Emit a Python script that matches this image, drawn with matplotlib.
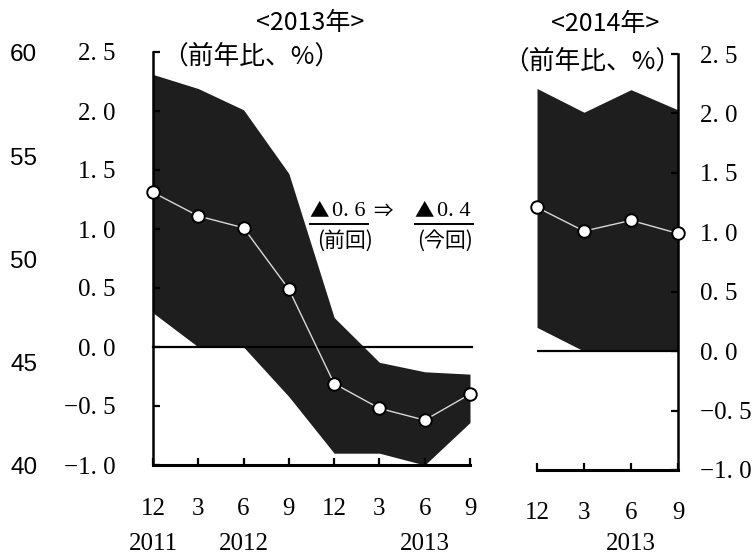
import matplotlib
matplotlib.use("Agg")
import matplotlib.pyplot as plt
from matplotlib.transforms import blended_transform_factory
import numpy as np

# ---- data -------------------------------------------------------------
# 2013 forecast panel: quarters from Dec 2011 to Sep 2013
q13_labels = ["12", "3", "6", "9", "12", "3", "6", "9"]
q13_median = [1.31, 1.11, 1.01, 0.49, -0.31, -0.52, -0.62, -0.40]
q13_upper = [2.31, 2.19, 2.01, 1.47, 0.25, -0.13, -0.21, -0.23]
q13_lower = [0.29, 0.00, 0.00, -0.42, -0.90, -0.90, -1.00, -0.64]
q13_years = {0: "2011", 2: "2012", 6: "2013"}

# 2014 forecast panel: quarters from Dec 2012 to Sep 2013
q14_labels = ["12", "3", "6", "9"]
q14_median = [1.21, 1.01, 1.10, 0.99]
q14_upper = [2.21, 2.01, 2.20, 2.03]
q14_lower = [0.20, 0.00, 0.00, 0.00]
q14_years = {2: "2013"}

y_ticks = [2.5, 2.0, 1.5, 1.0, 0.5, 0.0, -0.5, -1.0]
y_ticklabels = ["2. 5", "2. 0", "1. 5", "1. 0", "0. 5", "0. 0", "−0. 5", "−1. 0"]
far_ticks = [60, 55, 50, 45, 40]

SERIF = ["Liberation Serif", "Noto Sans CJK JP", "DejaVu Sans"]
CJK = ["Noto Sans CJK JP", "DejaVu Sans"]
BAND = "#1e1e1e"
TICK_FS = 18

W, H = 753, 556
fig = plt.figure(figsize=(W / 100, H / 100), dpi=100)


def rect(x0, y_top, x1, y_bot):
    return [x0 / W, (H - y_bot) / H, (x1 - x0) / W, (y_bot - y_top) / H]


def style_axis(ax, side):
    for s in ax.spines.values():
        s.set_visible(False)
    ax.spines["bottom"].set_visible(True)
    ax.spines["bottom"].set_linewidth(2.2)
    ax.spines[side].set_visible(True)
    ax.spines[side].set_linewidth(1.8)
    ax.set_ylim(-1.0, 2.5)
    ax.set_yticks(y_ticks)
    ax.tick_params(axis="both", direction="in", length=5, width=1.6,
                   labelsize=TICK_FS, colors="black")
    for lab in ax.get_xticklabels() + ax.get_yticklabels():
        lab.set_family(SERIF)
    ax.patch.set_alpha(0)


def draw_panel(ax, med, up, lo):
    x = np.arange(len(med))
    ax.fill_between(x, lo, up, color=BAND, lw=0, zorder=1)
    ax.plot(x, med, color="#d8d8d8", lw=1.0, zorder=3, clip_on=False)
    ax.plot(x, med, ls="none", marker="o", ms=9, mfc="white",
            mec="black", mew=1.4, zorder=4, clip_on=False)


# ---- left panel (2013) ----
axL = fig.add_axes(rect(153, 52, 470, 465))
axL.set_xlim(0, len(q13_labels) - 1)
draw_panel(axL, q13_median, q13_upper, q13_lower)
axL.plot([0, len(q13_labels) - 1 + 0.05], [0, 0], color="black", lw=1.6,
         zorder=2, clip_on=False)
axL.set_xticks(np.arange(len(q13_labels)))
axL.set_xticklabels(q13_labels)
axL.set_yticklabels(y_ticklabels)
style_axis(axL, "left")
axL.tick_params(axis="x", pad=24)
axL.tick_params(axis="y", pad=27)
for lab in axL.get_yticklabels():
    lab.set_horizontalalignment("right")

# ---- right panel (2014) ----
axR = fig.add_axes(rect(537, 54, 678, 470))
axR.set_xlim(0, len(q14_labels) - 1)
draw_panel(axR, q14_median, q14_upper, q14_lower)
axR.axhline(0, color="black", lw=1.6, zorder=2)
axR.set_xticks(np.arange(len(q14_labels)))
axR.set_xticklabels(q14_labels)
axR.yaxis.tick_right()
axR.set_yticklabels(y_ticklabels)
style_axis(axR, "right")
axR.tick_params(axis="x", pad=23)
axR.tick_params(axis="y", pad=15.5)

# ---- leftmost scale (40-60) ----
axF = fig.add_axes(rect(40, 53, 41, 466))
axF.set_ylim(40, 60)
axF.set_yticks(far_ticks)
axF.set_yticklabels([str(v) for v in far_ticks])
axF.set_xticks([])
for s in axF.spines.values():
    s.set_visible(False)
axF.tick_params(axis="y", length=0, pad=2, labelsize=17.5)
for lab in axF.get_yticklabels():
    lab.set_family(["Liberation Sans", "DejaVu Sans"])
axF.patch.set_alpha(0)

# ---- year labels under the quarters ----
for ax, years in ((axL, q13_years), (axR, q14_years)):
    tr = blended_transform_factory(ax.transData, fig.transFigure)
    for xi, yr in years.items():
        ax.text(xi, 1 - 544 / H, yr, transform=tr, ha="center", va="center",
                fontsize=TICK_FS, family=SERIF)


def ftext(x, y, s, **kw):
    fig.text(x / W, 1 - y / H, s, ha="center", va="center", **kw)


# ---- titles and units ----
ftext(310, 23, "<2013年>", fontsize=18, family=CJK)
ftext(605, 24, "<2014年>", fontsize=18, family=CJK)
ftext(251, 57, "（前年比、%）", fontsize=18.5, family=CJK)
ftext(592, 62, "（前年比、%）", fontsize=18.5, family=CJK)

# ---- revision note ----
ftext(319, 211, "▲", fontsize=14, family=CJK)
ftext(349, 211, "0. 6", fontsize=16, family=SERIF)
ftext(383, 211, "⇒", fontsize=14, family=CJK)
ftext(424, 211, "▲", fontsize=14, family=CJK)
ftext(454, 211, "0. 4", fontsize=16, family=SERIF)
for x0, x1 in ((310, 368), (415, 473)):
    fig.add_artist(plt.Line2D([x0 / W, x1 / W], [1 - 224 / H] * 2,
                              color="black", lw=1.4))
ftext(345, 241, "(前回)", fontsize=15, family=CJK)
ftext(445, 241, "(今回)", fontsize=15, family=CJK)

fig.savefig("out.png", dpi=100)
